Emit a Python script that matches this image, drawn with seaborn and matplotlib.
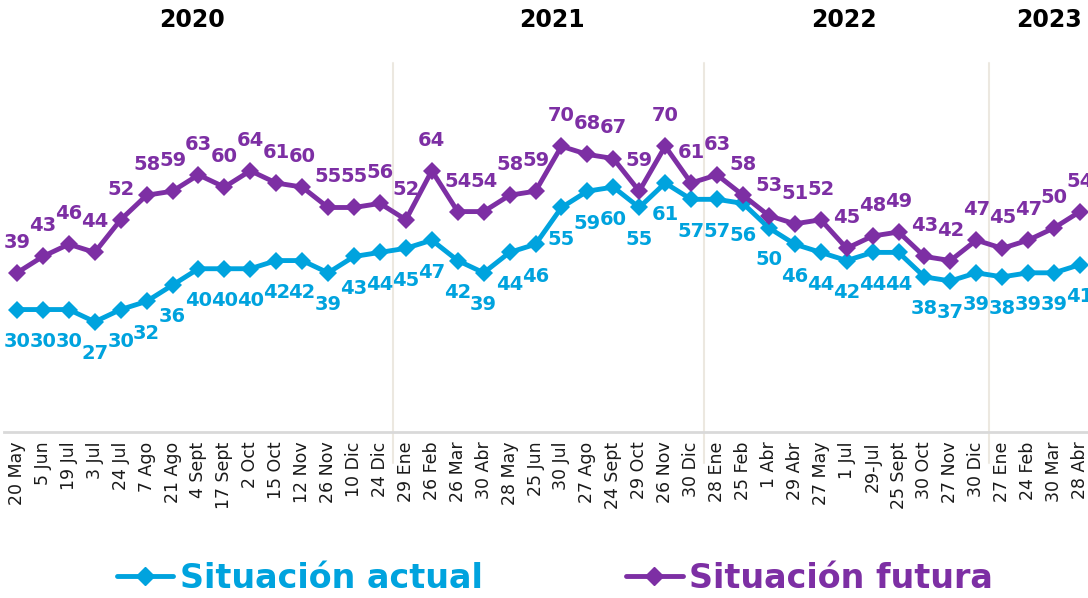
import pandas as pd
import matplotlib.pyplot as plt
import seaborn as sns
from matplotlib.lines import Line2D
import matplotlib.transforms as mtransforms

# ------ datos
fechas = ["20 May", "5 Jun", "19 Jul", "3 Jul", "24 Jul", "7 Ago", "21 Ago", "4 Sept",
          "17 Sept", "2 Oct", "15 Oct", "12 Nov", "26 Nov", "10 Dic", "24 Dic",
          "29 Ene", "26 Feb", "26 Mar", "30 Abr", "28 May", "25 Jun", "30 Jul",
          "27 Ago", "24 Sept", "29 Oct", "26 Nov", "30 Dic",
          "28 Ene", "25 Feb", "1 Abr", "29 Abr", "27 May", "1 Jul", "29-Jul",
          "25 Sept", "30 Oct", "27 Nov", "30 Dic",
          "27 Ene", "24 Feb", "30 Mar", "28 Abr"]
actual = [30, 30, 30, 27, 30, 32, 36, 40, 40, 40, 42, 42, 39, 43, 44,
          45, 47, 42, 39, 44, 46, 55, 59, 60, 55, 61, 57,
          57, 56, 50, 46, 44, 42, 44, 44, 38, 37, 39,
          38, 39, 39, 41]
futura = [39, 43, 46, 44, 52, 58, 59, 63, 60, 64, 61, 60, 55, 55, 56,
          52, 64, 54, 54, 58, 59, 70, 68, 67, 59, 70, 61,
          63, 58, 53, 51, 52, 45, 48, 49, 43, 42, 47,
          45, 47, 50, 54]
anios = ["2020", "2021", "2022", "2023"]
inicio_anio = [0, 15, 27, 38]
pos_anio = [6.75, 20.65, 31.9, 39.8]

azul = "#00A3DE"
morado = "#7D2FA4"

df = pd.DataFrame({
    "idx": list(range(len(fechas))) * 2,
    "valor": actual + futura,
    "serie": ["Situación actual"] * len(actual) + ["Situación futura"] * len(futura),
})

sns.set_style("white")
plt.rcParams["font.family"] = ["DejaVu Sans"]

fig = plt.figure(figsize=(10.88, 5.98), dpi=100)
ax = fig.add_axes([4 / 1088, 166 / 598, 1089 / 1088, 369 / 598])

sns.lineplot(data=df, x="idx", y="valor", hue="serie",
             palette={"Situación actual": azul, "Situación futura": morado},
             marker="D", markersize=9, markeredgewidth=0, linewidth=3.5,
             legend=False, ax=ax)

# etiquetas de valores
for i, v in enumerate(actual):
    ax.annotate(str(v), (i, v), xytext=(0, -23), textcoords="offset points",
                ha="center", va="center", color=azul, fontsize=14, fontweight="bold")
for i, v in enumerate(futura):
    ax.annotate(str(v), (i, v), xytext=(0, 22), textcoords="offset points",
                ha="center", va="center", color=morado, fontsize=14, fontweight="bold")

ax.set_xlim(-0.5, len(fechas) - 0.5)
ax.set_ylim(0, 90.4)
ax.set_yticks([])
ax.set_xticks(range(len(fechas)))
ax.set_xticklabels(fechas, rotation=90, fontsize=12.5, color="#1a1a1a")
ax.tick_params(axis="x", length=0, pad=7)
ax.set_xlabel("")
ax.set_ylabel("")
for lado in ["top", "right", "left"]:
    ax.spines[lado].set_visible(False)
ax.spines["bottom"].set_color("#D9D9D9")
ax.spines["bottom"].set_linewidth(2)

# separadores de anios
for ini in inicio_anio[1:]:
    ax.axvline(ini - 0.5, ymin=-0.084, ymax=1, color="#ECE8E0", linewidth=1.5,
               clip_on=False, zorder=0)

# nombres de anios
trans = mtransforms.blended_transform_factory(ax.transData, ax.transAxes)
for anio, xp in zip(anios, pos_anio):
    ax.text(xp, 1.117, anio, transform=trans, ha="center", va="center",
            fontsize=17, fontweight="bold", color="black")

# leyenda
manejadores = [
    Line2D([0], [0], color=azul, linewidth=3.5, marker="D", markersize=9),
    Line2D([0], [0], color=morado, linewidth=3.5, marker="D", markersize=9),
]
leyenda = fig.legend(manejadores, ["Situación actual", "Situación futura"],
                     loc="center", bbox_to_anchor=(0.51, 0.033), ncol=2, frameon=False,
                     prop={"size": 24, "weight": "bold"}, handlelength=1.7,
                     handletextpad=0.2, columnspacing=4.3)
for txt, col in zip(leyenda.get_texts(), [azul, morado]):
    txt.set_color(col)

fig.savefig("out.png", dpi=100)
